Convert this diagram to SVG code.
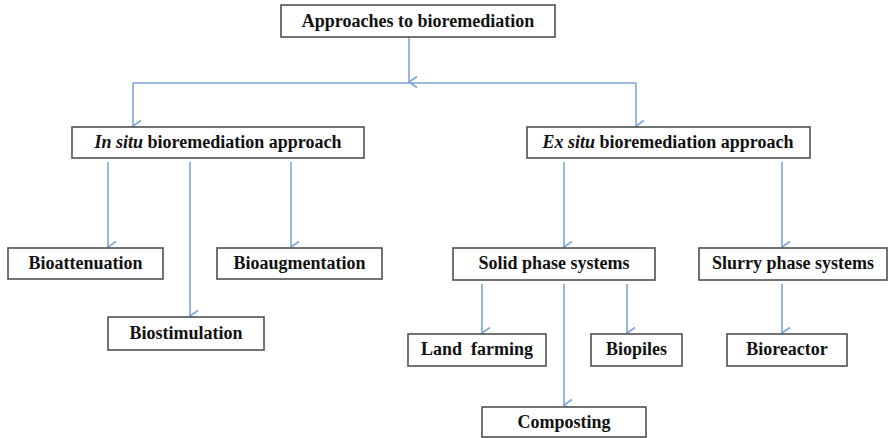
<svg xmlns="http://www.w3.org/2000/svg" width="889" height="438" viewBox="0 0 889 438">
  <defs>
    <style>
      .box { fill: #ffffff; stroke: #505050; stroke-width: 1.6; }
      .conn { fill: none; stroke: #7fa5d8; stroke-width: 1.6; }
    </style>
    <marker id="arrow" markerWidth="14" markerHeight="14" refX="7" refY="11" orient="auto" markerUnits="userSpaceOnUse" viewBox="0 0 14 14">
      <path d="M1.5,3 L7,11 L12.5,3" fill="none" stroke="#7fa5d8" stroke-width="1.6"/>
    </marker>
  </defs>
  <rect width="889" height="438" fill="#ffffff"/>

  <g id="connectors">
    <path class="conn" d="M409,37 V82" marker-end="url(#arrow)"/>
    <path class="conn" d="M133,83 H636"/>
    <path class="conn" d="M133,83 V126" marker-end="url(#arrow)"/>
    <path class="conn" d="M636,83 V126" marker-end="url(#arrow)"/>
    <path class="conn" d="M108,162 V247" marker-end="url(#arrow)"/>
    <path class="conn" d="M190,162 V316" marker-end="url(#arrow)"/>
    <path class="conn" d="M291,162 V247" marker-end="url(#arrow)"/>
    <path class="conn" d="M564,162 V247" marker-end="url(#arrow)"/>
    <path class="conn" d="M782,162 V247" marker-end="url(#arrow)"/>
    <path class="conn" d="M482,284 V333" marker-end="url(#arrow)"/>
    <path class="conn" d="M564,284 V405" marker-end="url(#arrow)"/>
    <path class="conn" d="M627,284 V333" marker-end="url(#arrow)"/>
    <path class="conn" d="M782,284 V333" marker-end="url(#arrow)"/>
  </g>

  <g font-family="Liberation Serif, Times New Roman, serif" font-weight="bold" font-size="18" fill="#111111" text-anchor="middle">
    <g id="approaches">
      <rect class="box" x="281" y="5" width="274" height="32"/>
      <text x="418" y="27">Approaches to bioremediation</text>
    </g>
    <g id="in-situ">
      <rect class="box" x="72" y="127" width="292" height="31"/>
      <text x="218" y="148"><tspan font-style="italic">In situ</tspan> bioremediation approach</text>
    </g>
    <g id="ex-situ">
      <rect class="box" x="527" y="127" width="283" height="31"/>
      <text x="668" y="148"><tspan font-style="italic">Ex situ</tspan> bioremediation approach</text>
    </g>
    <g id="bioattenuation">
      <rect class="box" x="8" y="248" width="155" height="31"/>
      <text x="85.5" y="269">Bioattenuation</text>
    </g>
    <g id="bioaugmentation">
      <rect class="box" x="217" y="248" width="165" height="31"/>
      <text x="299.5" y="269">Bioaugmentation</text>
    </g>
    <g id="biostimulation">
      <rect class="box" x="108" y="317" width="156" height="33"/>
      <text x="186" y="339">Biostimulation</text>
    </g>
    <g id="solid-phase">
      <rect class="box" x="453" y="248" width="202" height="32"/>
      <text x="554" y="269">Solid phase systems</text>
    </g>
    <g id="slurry-phase">
      <rect class="box" x="699" y="248" width="188" height="32"/>
      <text x="793" y="269">Slurry phase systems</text>
    </g>
    <g id="land-farming">
      <rect class="box" x="408" y="334" width="138" height="32"/>
      <text x="477" y="355" xml:space="preserve">Land  farming</text>
    </g>
    <g id="biopiles">
      <rect class="box" x="591" y="334" width="91" height="32"/>
      <text x="636.5" y="355">Biopiles</text>
    </g>
    <g id="bioreactor">
      <rect class="box" x="727" y="334" width="120" height="32"/>
      <text x="787" y="355">Bioreactor</text>
    </g>
    <g id="composting">
      <rect class="box" x="482" y="407" width="164" height="30"/>
      <text x="564" y="428">Composting</text>
    </g>
  </g>
</svg>
